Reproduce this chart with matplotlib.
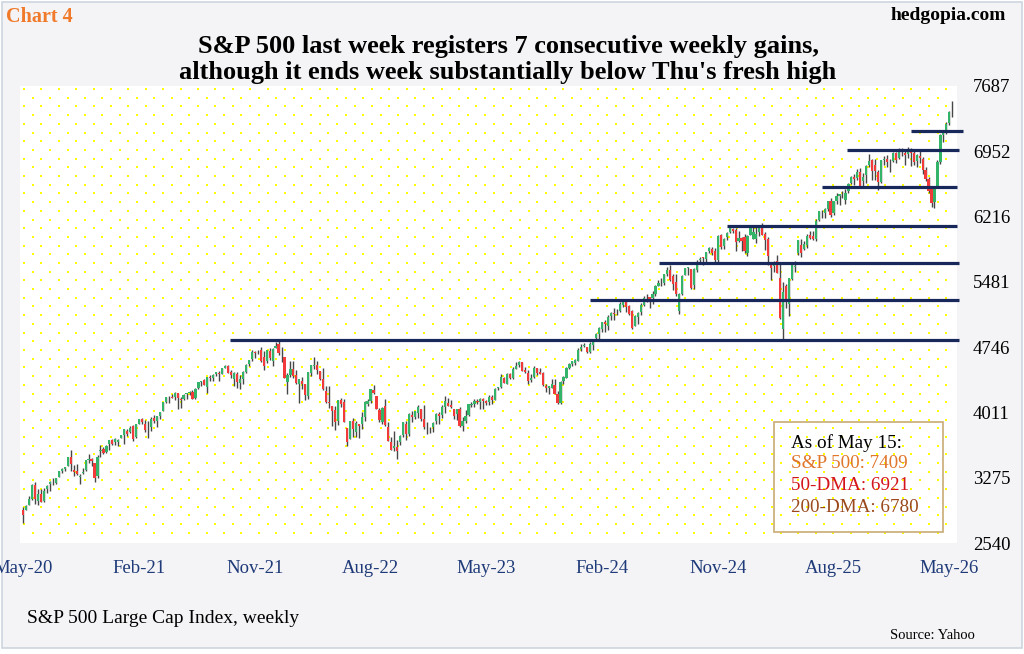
import numpy as np
import matplotlib
matplotlib.use("Agg")
import matplotlib.pyplot as plt
from matplotlib.patches import Rectangle

# ---------------- data (weekly S&P 500, week ending 15 May 2020 .. 15 May 2026) -------------
open_ = [
    # 2020
    2915, 2914, 2969, 3038, 3199, 3018, 3095, 3018, 3155, 3205, 3224, 3219, 3288, 3356, 3381, 3410,
    3507, 3369, 3354, 3285, 3326, 3368, 3478, 3493, 3441, 3296, 3584, 3600, 3567, 3653, 3699, 3675,
    3684, 3723,
    # 2021
    3764, 3803, 3790, 3856, 3732, 3885, 3939, 3885, 3842, 3844, 3949, 3916, 3969, 4034, 4130, 4181,
    4185, 4192, 4229, 4169, 4168, 4216, 4229, 4248, 4174, 4285, 4356, 4373, 4296, 4409, 4406, 4443,
    4462, 4450, 4516, 4536, 4470, 4394, 4450, 4348, 4386, 4471, 4553, 4610, 4697, 4689, 4712, 4640,
    4593, 4710, 4587, 4733,
    # 2022
    4778, 4655, 4632, 4357, 4432, 4505, 4432, 4332, 4364, 4328, 4202, 4462, 4541, 4548, 4474, 4385,
    4255, 4130, 4082, 4041, 3920, 4151, 4134, 3838, 3715, 3920, 3793, 3880, 3883, 3966, 4112, 4145,
    4267, 4195, 4041, 3910, 4083, 3847, 3682, 3610, 3622, 3677, 3755, 3885, 3767, 3983, 3956, 4005,
    4052, 3939, 3845, 3843,
    # 2023
    3853, 3911, 3999, 3979, 4071, 4120, 4095, 4051, 3992, 4055, 3855, 3917, 3982, 4102, 4110, 4138,
    4132, 4167, 4136, 4126, 4190, 4156, 4283, 4300, 4396, 4337, 4450, 4404, 4505, 4544, 4578, 4492,
    4461, 4381, 4415, 4510, 4473, 4453, 4313, 4284, 4289, 4320, 4225, 4122, 4364, 4406, 4512, 4554,
    4566, 4593, 4725, 4759,
    # 2024
    4745, 4690, 4772, 4853, 4892, 4957, 5026, 4987, 5094, 5132, 5123, 5154, 5219, 5257, 5211, 5150,
    4988, 5084, 5142, 5221, 5305, 5316, 5298, 5341, 5432, 5460, 5471, 5572, 5614, 5543, 5476, 5152,
    5344, 5557, 5636, 5623, 5442, 5615, 5726, 5757, 5737, 5830, 5857, 5826, 5723, 6008, 5883, 5993,
    6040, 6081, 6063, 5940,
    # 2025
    5979, 5982, 5806, 6015, 5969, 5969, 6046, 6121, 6026, 5969, 5705, 5659, 5718, 5527, 4954, 5441,
    5232, 5510, 5655, 5808, 5902, 5855, 5897, 6005, 6004, 5970, 6175, 6255, 6255, 6304, 6391, 6260,
    6389, 6445, 6457, 6401, 6500, 6590, 6660, 6650, 6720, 6620, 6690, 6800, 6850, 6800, 6720, 6610,
    6850, 6870, 6830, 6840,
    # 2026
    6935, 6880, 6960, 6930, 6920, 6945, 6930, 6840, 6900, 6870, 6740, 6645, 6545, 6380, 6560, 6830,
    7130, 7170, 7265, 7400,
]
high = [
    # 2020
    2945, 2968, 3068, 3211, 3233, 3156, 3155, 3165, 3198, 3238, 3280, 3272, 3352, 3387, 3399, 3509,
    3588, 3425, 3428, 3320, 3393, 3482, 3550, 3502, 3441, 3530, 3646, 3628, 3645, 3699, 3712, 3726,
    3711, 3760,
    # 2021
    3827, 3823, 3860, 3871, 3887, 3935, 3951, 3928, 3914, 3960, 3983, 3978, 4020, 4130, 4191, 4194,
    4218, 4238, 4236, 4187, 4218, 4234, 4249, 4262, 4286, 4356, 4372, 4393, 4415, 4429, 4441, 4469,
    4482, 4513, 4546, 4549, 4486, 4466, 4466, 4430, 4475, 4559, 4608, 4718, 4707, 4718, 4744, 4705,
    4713, 4743, 4740, 4808,
    # 2022
    4819, 4749, 4632, 4453, 4595, 4590, 4490, 4363, 4416, 4329, 4465, 4546, 4637, 4594, 4474, 4513,
    4308, 4307, 4082, 4090, 4158, 4178, 4168, 3838, 3913, 3950, 3918, 3880, 4013, 4140, 4168, 4280,
    4326, 4203, 4062, 4077, 4159, 3900, 3740, 3807, 3698, 3764, 3906, 3912, 4002, 4028, 4034, 4100,
    4052, 4101, 3905, 3846,
    # 2023
    3907, 4003, 4016, 4095, 4195, 4176, 4153, 4051, 4048, 4079, 3964, 4039, 4110, 4133, 4163, 4169,
    4171, 4170, 4154, 4212, 4213, 4290, 4299, 4448, 4409, 4458, 4456, 4528, 4578, 4594, 4584, 4528,
    4490, 4448, 4541, 4514, 4511, 4466, 4334, 4312, 4386, 4394, 4255, 4366, 4418, 4521, 4568, 4595,
    4609, 4738, 4778, 4794,
    # 2024
    4755, 4802, 4842, 4907, 4975, 5030, 5048, 5111, 5140, 5189, 5179, 5261, 5265, 5264, 5220, 5168,
    5114, 5146, 5239, 5325, 5342, 5316, 5375, 5447, 5505, 5524, 5570, 5655, 5670, 5566, 5566, 5360,
    5561, 5643, 5651, 5623, 5636, 5734, 5767, 5765, 5822, 5879, 5878, 5863, 6012, 6018, 5973, 6044,
    6100, 6089, 6085, 6050,
    # 2025
    5985, 6022, 6014, 6128, 6120, 6101, 6128, 6147, 6044, 5987, 5705, 5715, 5787, 5695, 5482, 5460,
    5528, 5700, 5720, 5958, 5969, 5944, 6017, 6059, 6050, 6188, 6285, 6290, 6316, 6395, 6428, 6395,
    6481, 6467, 6508, 6532, 6600, 6672, 6699, 6750, 6765, 6710, 6800, 6920, 6860, 6870, 6740, 6850,
    6895, 6905, 6865, 6945,
    # 2026
    6945, 6985, 6990, 6950, 6995, 6985, 6960, 6920, 6950, 6890, 6770, 6660, 6560, 6560, 6850, 7150,
    7180, 7280, 7410, 7517,
]
low = [
    # 2020
    2767, 2914, 2969, 3032, 2984, 2966, 3005, 3000, 3101, 3127, 3201, 3209, 3284, 3328, 3354, 3410,
    3350, 3293, 3312, 3209, 3323, 3354, 3441, 3415, 3234, 3280, 3511, 3543, 3556, 3594, 3645, 3648,
    3636, 3723,
    # 2021
    3663, 3750, 3784, 3694, 3725, 3885, 3885, 3789, 3723, 3805, 3894, 3853, 3939, 4034, 4120, 4119,
    4173, 4157, 4057, 4062, 4155, 4168, 4204, 4164, 4165, 4278, 4309, 4322, 4233, 4372, 4368, 4427,
    4367, 4447, 4509, 4457, 4405, 4306, 4288, 4278, 4330, 4462, 4537, 4596, 4630, 4672, 4586, 4496,
    4572, 4600, 4531, 4733,
    # 2022
    4663, 4582, 4395, 4223, 4410, 4401, 4330, 4115, 4279, 4157, 4161, 4424, 4506, 4451, 4381, 4267,
    4124, 4063, 3859, 3811, 3876, 4074, 3900, 3637, 3715, 3739, 3742, 3722, 3830, 3911, 4080, 4114,
    4218, 4057, 3907, 3887, 3855, 3693, 3585, 3584, 3491, 3647, 3741, 3698, 3751, 3906, 3938, 3954,
    3919, 3828, 3765, 3782,
    # 2023
    3794, 3878, 3885, 3949, 4010, 4080, 4061, 3944, 3928, 3847, 3809, 3898, 3971, 4069, 4073, 4113,
    4049, 4048, 4099, 4098, 4103, 4148, 4262, 4293, 4341, 4328, 4385, 4392, 4502, 4527, 4474, 4458,
    4335, 4356, 4403, 4430, 4448, 4316, 4238, 4216, 4283, 4223, 4103, 4107, 4338, 4403, 4507, 4538,
    4546, 4593, 4700, 4751,
    # 2024
    4682, 4682, 4714, 4845, 4845, 4918, 4920, 4946, 5057, 5057, 5105, 5146, 5204, 5146, 5107, 4953,
    4987, 5011, 5114, 5211, 5257, 5191, 5234, 5327, 5432, 5433, 5448, 5546, 5497, 5390, 5325, 5120,
    5331, 5557, 5561, 5403, 5406, 5597, 5703, 5674, 5696, 5808, 5784, 5706, 5696, 5853, 5854, 5956,
    6030, 6031, 5833, 5932,
    # 2025
    5825, 5810, 5774, 6009, 5966, 5924, 6003, 6008, 5837, 5667, 5505, 5597, 5578, 5070, 4835, 5192,
    5101, 5506, 5598, 5786, 5767, 5839, 5861, 5963, 5953, 5943, 6170, 6201, 6201, 6282, 6212, 6237,
    6360, 6343, 6430, 6360, 6480, 6580, 6570, 6630, 6550, 6550, 6600, 6780, 6630, 6630, 6521, 6600,
    6800, 6780, 6720, 6835,
    # 2026
    6825, 6860, 6900, 6800, 6880, 6790, 6800, 6780, 6820, 6700, 6620, 6480, 6330, 6310, 6550, 6810,
    7060, 7150, 7250, 7340,
]
close = [
    # 2020
    2864, 2955, 3044, 3194, 3041, 3098, 3009, 3130, 3185, 3225, 3216, 3271, 3351, 3373, 3397, 3508,
    3427, 3341, 3319, 3298, 3348, 3477, 3484, 3465, 3270, 3510, 3585, 3557, 3638, 3699, 3663, 3709,
    3703, 3756,
    # 2021
    3825, 3768, 3841, 3714, 3887, 3934, 3907, 3811, 3842, 3943, 3913, 3975, 4020, 4129, 4185, 4180,
    4181, 4233, 4174, 4156, 4204, 4230, 4247, 4166, 4281, 4352, 4370, 4327, 4412, 4395, 4437, 4468,
    4442, 4509, 4535, 4459, 4433, 4455, 4357, 4391, 4471, 4545, 4605, 4697, 4683, 4698, 4595, 4538,
    4712, 4621, 4726, 4766,
    # 2022
    4677, 4663, 4398, 4432, 4501, 4419, 4349, 4385, 4329, 4204, 4463, 4543, 4546, 4488, 4393, 4272,
    4132, 4123, 4024, 3901, 4158, 4109, 3901, 3675, 3912, 3825, 3899, 3863, 3962, 4130, 4145, 4280,
    4228, 4057, 3924, 4067, 3873, 3693, 3586, 3640, 3583, 3753, 3901, 3771, 3993, 3965, 4027, 4072,
    3934, 3852, 3845, 3840,
    # 2023
    3895, 3999, 3973, 4071, 4136, 4090, 4079, 3970, 4046, 3862, 3917, 3971, 4109, 4105, 4138, 4133,
    4169, 4136, 4124, 4192, 4151, 4282, 4299, 4410, 4348, 4450, 4399, 4505, 4536, 4582, 4478, 4464,
    4370, 4406, 4516, 4457, 4450, 4320, 4288, 4309, 4328, 4224, 4117, 4358, 4415, 4514, 4559, 4595,
    4604, 4719, 4755, 4770,
    # 2024
    4697, 4784, 4840, 4891, 4959, 5027, 5006, 5089, 5137, 5124, 5117, 5234, 5254, 5204, 5123, 4967,
    5100, 5128, 5223, 5303, 5305, 5278, 5347, 5432, 5465, 5460, 5567, 5615, 5505, 5459, 5347, 5344,
    5554, 5634, 5648, 5408, 5626, 5703, 5738, 5751, 5815, 5865, 5808, 5729, 5996, 5871, 5969, 6032,
    6090, 6051, 5931, 5971,
    # 2025
    5942, 5827, 5997, 6101, 6041, 6026, 6115, 6013, 5955, 5770, 5639, 5667, 5581, 5074, 5363, 5283,
    5525, 5687, 5660, 5958, 5803, 5912, 6000, 5977, 5968, 6173, 6279, 6260, 6297, 6389, 6238, 6389,
    6450, 6467, 6460, 6482, 6584, 6664, 6644, 6716, 6553, 6664, 6792, 6840, 6729, 6734, 6603, 6849,
    6870, 6827, 6834, 6930,
    # 2026
    6858, 6966, 6940, 6915, 6940, 6930, 6836, 6910, 6880, 6740, 6640, 6510, 6365, 6540, 6830, 7130,
    7160, 7260, 7398, 7409,
]

# support lines: price level, first week index, last week index
line_levels = [4830, 5284, 5691, 6111, 6550, 6967, 7178]
line_start = [69.6, 190.9, 214.3, 237.0, 269.2, 277.4, 299.0]
line_end = [315.3, 315.3, 315.3, 314.6, 314.7, 315.3, 316.7]

xtick_pos = [0, 39, 78, 117, 156, 195, 234, 273, 312]
xtick_labels = ["May-20", "Feb-21", "Nov-21", "Aug-22", "May-23", "Feb-24", "Nov-24", "Aug-25", "May-26"]
ytick_vals = [2540, 3275, 4011, 4746, 5481, 6216, 6952, 7687]
ytick_labels = ["2540", "3275", "4011", "4746", "5481", "6216", "6952", "7687"]

legend_lines = ["As of May 15:", "S&P 500: 7409", "50-DMA: 6921", "200-DMA: 6780"]

# ---------------- styling ----------------
plt.rcParams['font.family'] = ['Liberation Serif', 'DejaVu Serif']
GREEN = '#34b468'
RED = '#f23a3a'
WICK = '#474747'
NAVY = '#18285a'
W, H = 1024, 654

fig = plt.figure(figsize=(W / 100, H / 100), dpi=100)
fig.patch.set_facecolor('white')
fig.add_artist(Rectangle((1.5 / W, 1 - 648 / H), 1020 / W, 646.5 / H, transform=fig.transFigure,
                         facecolor='#f4f4f6', edgecolor='#cdd5df', lw=1.2, zorder=-10))

ax_left, ax_right, ax_top, ax_bot = 20, 957, 86, 543.3
ax = fig.add_axes([ax_left / W, 1 - ax_bot / H, (ax_right - ax_left) / W, (ax_bot - ax_top) / H])
ax.set_facecolor('white')
for s in ax.spines.values():
    s.set_visible(False)

o = np.array(open_, float)
h = np.array(high, float)
l = np.array(low, float)
c = np.array(close, float)
idx = np.arange(len(c))

bar_px = 2.968
x0 = -(23.3 - ax_left) / bar_px
ax.set_xlim(x0, x0 + (ax_right - ax_left) / bar_px)
ax.set_ylim(ytick_vals[0], ytick_vals[-1])

# dotted background pattern (decoration)
aw, ah = ax_right - ax_left, ax_bot - ax_top
dx, dy = [], []
for r, yy in enumerate(np.arange(3.0, ah - 2, 8.7)):
    start = 4.0 if r % 2 == 0 else 4.0 + 8.7
    for xx in np.arange(start, aw - 3, 17.4):
        dx.append(xx / aw)
        dy.append(1 - yy / ah)
ax.scatter(dx, dy, s=3.4, marker='s', color='#ffff00', linewidths=0, transform=ax.transAxes, zorder=0)

# candlesticks
up = c >= o
ax.vlines(idx, l, h, color=WICK, lw=1.0, zorder=2)
ax.bar(idx, np.abs(c - o), bottom=np.minimum(o, c), width=0.74,
       color=np.where(up, GREEN, RED), linewidth=0, zorder=3)

# support lines
for lv, s0, s1 in zip(line_levels, line_start, line_end):
    ax.plot([s0, s1], [lv, lv], color=NAVY, lw=2.3, solid_capstyle='butt', clip_on=False, zorder=4)

ax.set_xticks(xtick_pos)
ax.set_xticklabels(xtick_labels)
ax.tick_params(axis='x', length=0, pad=12, labelsize=13.5, labelcolor='#1f3a78')
ax.yaxis.tick_right()
ax.set_yticks(ytick_vals)
ax.set_yticklabels(ytick_labels)
ax.tick_params(axis='y', length=0, pad=11.5, labelsize=13.5, labelcolor='black')

# titles and notes
def fy(py):
    return 1 - py / H

fig.text(508 / W, fy(53), "S&P 500 last week registers 7 consecutive weekly gains,",
         ha='center', va='baseline', fontsize=19, fontweight='bold', color='black')
fig.text(508 / W, fy(79), "although it ends week substantially below Thu's fresh high",
         ha='center', va='baseline', fontsize=19, fontweight='bold', color='black')
fig.text(6 / W, fy(22), "Chart 4", ha='left', va='baseline', fontsize=14.5, fontweight='bold', color='#f07a2a')
fig.text(1006 / W, fy(20), "hedgopia.com", ha='right', va='baseline', fontsize=14, fontweight='bold', color='black')
fig.text(27 / W, fy(623), "S&P 500 Large Cap Index, weekly", ha='left', va='baseline', fontsize=14, color='black')
fig.text(975 / W, fy(639), "Source: Yahoo", ha='right', va='baseline', fontsize=10.5, color='black')

# legend box
fig.add_artist(Rectangle((774.3 / W, fy(531.7)), (942.7 - 774.3) / W, (531.7 - 421.7) / H,
                         transform=fig.transFigure, fill=False, edgecolor='#c9ab74', lw=1.2, zorder=5))
leg_colors = ['black', '#e0762a', '#d4141c', '#9a4a1c']
leg_base = [447.5, 468.5, 490, 511.5]
for txt, col, b in zip(legend_lines, leg_colors, leg_base):
    fig.text(790.7 / W, fy(b), txt, ha='left', va='baseline', fontsize=13.8, color=col, zorder=6)

fig.savefig('out.png', dpi=100, facecolor=fig.get_facecolor())
